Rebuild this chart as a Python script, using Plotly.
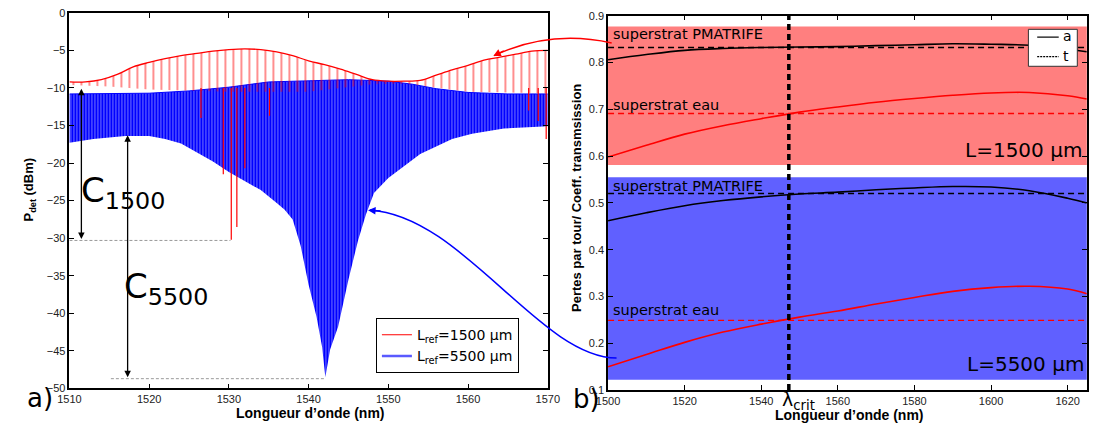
import plotly.graph_objects as go

W, H = 1103, 435

# ---------------- data: panel a) (envelopes read from picture) ----------------
red_hi_wl = [1510, 1512, 1514, 1516, 1518, 1520, 1522, 1524, 1526, 1528, 1530, 1532, 1534, 1536,
             1538, 1540, 1542, 1544, 1546, 1548, 1550, 1552, 1554, 1556, 1558, 1560, 1562, 1564,
             1566, 1568, 1570]
red_hi = [-9.2, -9.2, -8.9, -8.2, -7.2, -6.6, -6.1, -5.7, -5.4, -5.1, -4.9, -4.8, -4.9, -5.2,
          -5.7, -6.4, -6.9, -7.5, -8.2, -8.9, -9.1, -9.1, -9.0, -8.3, -7.6, -7.0, -6.3, -5.9,
          -5.5, -5.1, -5.0]
red_lo_wl = [1510, 1515, 1520, 1530, 1540, 1548, 1552, 1556, 1560, 1570]
red_lo = [-9.6, -9.8, -10.2, -10.5, -10.5, -9.5, -9.4, -10.0, -10.5, -10.7]
red_dip_wl = [1526.5, 1529.3, 1530.3, 1531.0, 1532.0, 1535.1, 1567.6, 1568.8, 1569.8]
red_dip_depth = [-14.0, -21.5, -30.2, -28.5, -20.7, -13.7, -13.0, -14.4, -16.8]

blue_hi_wl = [1510, 1515, 1520, 1525, 1530, 1535, 1540, 1545, 1550, 1553, 1556, 1560, 1565, 1570]
blue_hi = [-10.8, -10.8, -10.7, -10.4, -9.9, -9.2, -9.0, -8.9, -9.1, -9.5, -10.1, -10.6, -10.8, -10.8]
blue_lo_wl = [1510, 1513, 1517, 1520, 1522, 1524, 1526, 1528, 1530, 1532, 1534, 1536, 1537, 1538,
              1539, 1540, 1541, 1541.7, 1542.1, 1542.7, 1543.7, 1545, 1546.2, 1547.2, 1548.2,
              1550, 1552.3, 1554, 1556.4, 1558, 1560.5, 1564.5, 1570]
blue_lo = [-17.3, -16.8, -16.4, -16.4, -16.8, -17.4, -18.6, -19.8, -21.2, -22.4, -23.6, -25.3, -26.2,
           -27.5, -31.0, -36.2, -40.5, -44.5, -48.5, -44.8, -41.8, -35.5, -30.3, -26.8, -24.0,
           -22.0, -20.2, -18.8, -17.6, -16.8, -16.1, -15.4, -15.1]

C1500_range = [-10.1, -30.3]
C5500_range = [-16.3, -48.7]

# ---------------- data: panel b) ----------------
wl_b = [1500, 1510, 1520, 1530, 1540, 1550, 1560, 1570, 1580, 1590, 1600, 1610, 1620, 1625]
a_pmatrife_1500 = [0.806, 0.817, 0.826, 0.830, 0.832, 0.833, 0.834, 0.836, 0.838, 0.840, 0.839, 0.837, 0.829, 0.823]
a_eau_1500 = [0.598, 0.623, 0.647, 0.665, 0.680, 0.694, 0.705, 0.715, 0.723, 0.730, 0.735, 0.736, 0.729, 0.722]
a_pmatrife_5500 = [0.462, 0.479, 0.494, 0.505, 0.513, 0.519, 0.523, 0.528, 0.532, 0.535, 0.534, 0.526, 0.510, 0.500]
a_eau_5500 = [0.150, 0.176, 0.202, 0.224, 0.241, 0.256, 0.269, 0.284, 0.298, 0.311, 0.319, 0.322, 0.316, 0.306]
t_pmatrife_1500 = 0.832
t_eau_1500 = 0.691
t_pmatrife_5500 = 0.520
t_eau_5500 = 0.249
lambda_crit = 1547.2
band_1500 = [0.581, 0.877]
band_5500 = [0.122, 0.555]

RED = '#ff0000'
BLUE = '#0000ff'


def px(x):
    return x / W


def py(y):
    return 1 - y / H


fig = go.Figure()

# ---- panel a ----
fig.add_trace(go.Scatter(x=blue_lo_wl, y=blue_lo, mode='lines', line=dict(width=0, color=BLUE),
                         showlegend=False, hoverinfo='skip', xaxis='x', yaxis='y'))
fig.add_trace(go.Scatter(x=blue_hi_wl, y=blue_hi, mode='lines', line=dict(width=1, color=BLUE),
                         fill='tonexty', fillcolor=BLUE,
                         fillpattern=dict(shape='|', fgcolor='white', bgcolor=BLUE,
                                          size=3, solidity=0.3),
                         showlegend=False, hoverinfo='skip', xaxis='x', yaxis='y'))
fig.add_trace(go.Scatter(x=red_lo_wl, y=red_lo, mode='lines', line=dict(width=0, color=RED),
                         showlegend=False, hoverinfo='skip', xaxis='x', yaxis='y'))
fig.add_trace(go.Scatter(x=red_hi_wl, y=red_hi, mode='lines', line=dict(width=1.3, color=RED, shape='spline'),
                         fill='tonexty', fillcolor=RED,
                         fillpattern=dict(shape='|', fgcolor=RED, bgcolor='rgba(255,255,255,0)',
                                          size=8, solidity=0.22),
                         showlegend=False, hoverinfo='skip', xaxis='x', yaxis='y'))
dx, dy = [], []
for w, d in zip(red_dip_wl, red_dip_depth):
    dx += [w, w, None]
    dy += [-10.0, d, None]
fig.add_trace(go.Scatter(x=dx, y=dy, mode='lines', line=dict(width=1.2, color=RED),
                         showlegend=False, hoverinfo='skip', xaxis='x', yaxis='y'))
# legend entries
fig.add_trace(go.Scatter(x=[None], y=[None], mode='lines', line=dict(width=1.2, color=RED),
                         name='L<sub>ref</sub>=1500 µm', xaxis='x', yaxis='y'))
fig.add_trace(go.Scatter(x=[None], y=[None], mode='lines', line=dict(width=2.5, color='#5a5aff'),
                         name='L<sub>ref</sub>=5500 µm', xaxis='x', yaxis='y'))

# ---- panel b ----
for yv, col in [(a_pmatrife_1500, 'black'), (a_eau_1500, RED), (a_pmatrife_5500, 'black'), (a_eau_5500, RED)]:
    fig.add_trace(go.Scatter(x=wl_b, y=yv, mode='lines', line=dict(width=1.6, color=col, shape='spline'),
                             showlegend=False, hoverinfo='skip', xaxis='x2', yaxis='y2'))
for tv, col in [(t_pmatrife_1500, 'black'), (t_eau_1500, RED), (t_pmatrife_5500, 'black'), (t_eau_5500, RED)]:
    fig.add_trace(go.Scatter(x=[wl_b[0], wl_b[-1]], y=[tv, tv], mode='lines',
                             line=dict(width=1.4, color=col, dash='6px,4px'),
                             showlegend=False, hoverinfo='skip', xaxis='x2', yaxis='y2'))

axis_common = dict(showline=True, linecolor='black', linewidth=1.5, mirror='ticks', ticks='inside',
                   ticklen=5, tickwidth=1, tickcolor='black', showgrid=False, zeroline=False,
                   tickfont=dict(family='Liberation Sans', size=11, color='#222'))

shapes = []
# bands panel b
shapes.append(dict(type='rect', xref='x2 domain', yref='y2', x0=0, x1=1, y0=band_1500[0], y1=band_1500[1],
                   fillcolor='#ff7f7f', line=dict(width=0), layer='below'))
shapes.append(dict(type='rect', xref='x2 domain', yref='y2', x0=0, x1=1, y0=band_5500[0], y1=band_5500[1],
                   fillcolor='#6060ff', line=dict(width=0), layer='below'))
shapes.append(dict(type='line', xref='x2', yref='y2 domain', x0=lambda_crit, x1=lambda_crit, y0=0, y1=1,
                   line=dict(color='black', width=3.5, dash='6px,4px'), layer='above'))
# gray dotted references panel a
shapes.append(dict(type='line', xref='x', yref='y', x0=1510, x1=1530.2, y0=C1500_range[1], y1=C1500_range[1],
                   line=dict(color='#9a9a9a', width=1, dash='3px,2px')))
shapes.append(dict(type='line', xref='x', yref='y', x0=1515.2, x1=1542.1, y0=C5500_range[1], y1=C5500_range[1],
                   line=dict(color='#9a9a9a', width=1, dash='3px,2px')))
# connecting curved arrows (paper coords)
shapes.append(dict(type='path', xref='paper', yref='paper',
                   path=f"M {px(613)},{py(38)} Q {px(550)},{py(24)} {px(493)},{py(51)}",
                   line=dict(color=RED, width=1.5)))
shapes.append(dict(type='path', xref='paper', yref='paper',
                   path=f"M {px(618)},{py(362)} C {px(540)},{py(362)} {px(460)},{py(215)} {px(366)},{py(210)}",
                   line=dict(color=BLUE, width=1.5)))
# manual legend for panel b (a / t)
shapes.append(dict(type='rect', xref='paper', yref='paper', x0=px(1039), x1=px(1089), y0=py(62), y1=py(24),
                   fillcolor='white', line=dict(color='#333', width=1), layer='above'))
shapes.append(dict(type='line', xref='paper', yref='paper', x0=px(1048), x1=px(1070), y0=py(32), y1=py(32),
                   line=dict(color='black', width=1.2), layer='above'))
shapes.append(dict(type='line', xref='paper', yref='paper', x0=px(1048), x1=px(1070), y0=py(52), y1=py(52),
                   line=dict(color='black', width=1.2, dash='2px,1px'), layer='above'))

ann = []
ann.append(dict(xref='paper', yref='paper', x=px(1072), y=py(31), xanchor='left', yanchor='middle', text='a',
                showarrow=False, font=dict(family='DejaVu Sans', size=14, color='black')))
ann.append(dict(xref='paper', yref='paper', x=px(1072), y=py(51), xanchor='left', yanchor='middle', text='t',
                showarrow=False, font=dict(family='DejaVu Sans', size=14, color='black')))
ann.append(dict(xref='paper', yref='paper', x=px(492), y=py(51.5), ax=12, ay=-6, text='', showarrow=True,
                arrowhead=2, arrowsize=1, arrowwidth=1.5, arrowcolor=RED))
ann.append(dict(xref='paper', yref='paper', x=px(364), y=py(210), ax=14, ay=1, text='', showarrow=True,
                arrowhead=2, arrowsize=1, arrowwidth=1.5, arrowcolor=BLUE))
ann.append(dict(xref='x', yref='y', axref='x', ayref='y', x=1511.5, y=C1500_range[0], ax=1511.5, ay=C1500_range[1],
                text='', showarrow=True, arrowhead=2, arrowside='end+start', arrowsize=1, arrowwidth=1.3,
                arrowcolor='black'))
ann.append(dict(xref='x', yref='y', axref='x', ayref='y', x=1517.3, y=C5500_range[0], ax=1517.3, ay=C5500_range[1],
                text='', showarrow=True, arrowhead=2, arrowside='end+start', arrowsize=1, arrowwidth=1.3,
                arrowcolor='black'))
big = dict(family='DejaVu Sans', size=34, color='black')
ann.append(dict(xref='paper', yref='paper', x=px(69), y=py(192), xanchor='left', yanchor='middle',
                text='C<sub>1500</sub>', showarrow=False, font=big))
ann.append(dict(xref='paper', yref='paper', x=px(112), y=py(290), xanchor='left', yanchor='middle',
                text='C<sub>5500</sub>', showarrow=False, font=big))
lab = dict(family='DejaVu Sans', size=26, color='black')
ann.append(dict(xref='paper', yref='paper', x=px(29), y=py(403), xanchor='center', yanchor='middle',
                text='a)', showarrow=False, font=lab))
ann.append(dict(xref='paper', yref='paper', x=px(587), y=py(404), xanchor='center', yanchor='middle',
                text='b)', showarrow=False, font=lab))
ttl = dict(family='Liberation Sans', size=13, color='black')
ann.append(dict(xref='paper', yref='paper', x=px(305), y=py(419), xanchor='center', yanchor='middle',
                text="<b>Longueur d’onde (nm)</b>", showarrow=False, font=dict(family='Liberation Sans', size=14)))
ann.append(dict(xref='paper', yref='paper', x=px(856), y=py(421), xanchor='center', yanchor='middle',
                text="<b>Longueur d’onde (nm)</b>", showarrow=False, font=dict(family='Liberation Sans', size=14)))
ann.append(dict(xref='paper', yref='paper', x=px(18), y=py(189), xanchor='center', yanchor='middle',
                textangle=-90, text="<b>P<sub>det</sub> (dBm)</b>", showarrow=False, font=ttl))
ann.append(dict(xref='paper', yref='paper', x=px(577), y=py(197), xanchor='center', yanchor='middle',
                textangle=-90, text="<b>Pertes par tour/ Coeff. transmsission</b>", showarrow=False, font=ttl))
ann.append(dict(xref='paper', yref='paper', x=px(785), y=py(406), xanchor='left', yanchor='middle',
                text='λ<sub>crit</sub>', showarrow=False, font=dict(family='DejaVu Sans', size=19, color='black')))
txt = dict(family='DejaVu Sans', size=14.5, color='black')
for yv, s in [(0.860, 'superstrat PMATRIFE'), (0.709, 'superstrat eau'), (0.536, 'superstrat PMATRIFE'),
              (0.272, 'superstrat eau')]:
    ann.append(dict(xref='x2', yref='y2', x=1500.8, y=yv, xanchor='left', yanchor='middle', text=s,
                    showarrow=False, font=txt))
bigL = dict(family='DejaVu Sans', size=20, color='black')
ann.append(dict(xref='paper', yref='paper', x=px(1096), y=py(148.5), xanchor='right', yanchor='middle',
                text='L=1500 µm', showarrow=False, font=bigL))
ann.append(dict(xref='paper', yref='paper', x=px(1098), y=py(368.5), xanchor='right', yanchor='middle',
                text='L=5500 µm', showarrow=False, font=bigL))

fig.update_layout(
    width=W, height=H, margin=dict(l=0, r=0, t=0, b=0), paper_bgcolor='white', plot_bgcolor='white',
    font=dict(family='Liberation Sans', size=11, color='black'),
    xaxis=dict(domain=[px(58.7), px(547.7)], range=[1510, 1570], tickvals=[1510, 1520, 1530, 1540, 1550, 1560, 1570],
               anchor='y', **axis_common),
    yaxis=dict(domain=[py(393.3), py(7)], range=[-50, 0], tickvals=list(range(-50, 1, 5)), anchor='x',
               tickformat='d', **axis_common),
    xaxis2=dict(domain=[px(609.3), px(1098.7)], range=[1500, 1625], tickvals=[1500, 1520, 1540, 1560, 1580, 1600, 1620],
                anchor='y2', **axis_common),
    yaxis2=dict(domain=[py(395), py(10)], range=[0.1, 0.9], tickvals=[0.1, 0.2, 0.3, 0.4, 0.5, 0.6, 0.7, 0.8, 0.9],
                anchor='x2', tickformat='.1f', **axis_common),
    legend=dict(x=px(372), y=py(321), xanchor='left', yanchor='top', bordercolor='black', borderwidth=1,
                bgcolor='white', font=dict(family='DejaVu Sans', size=14, color='black'), traceorder='normal'),
    shapes=shapes, annotations=ann, showlegend=True,
)

fig.write_html("out.html", config={'displayModeBar': False},
               post_script="document.body.style.margin='0';")
